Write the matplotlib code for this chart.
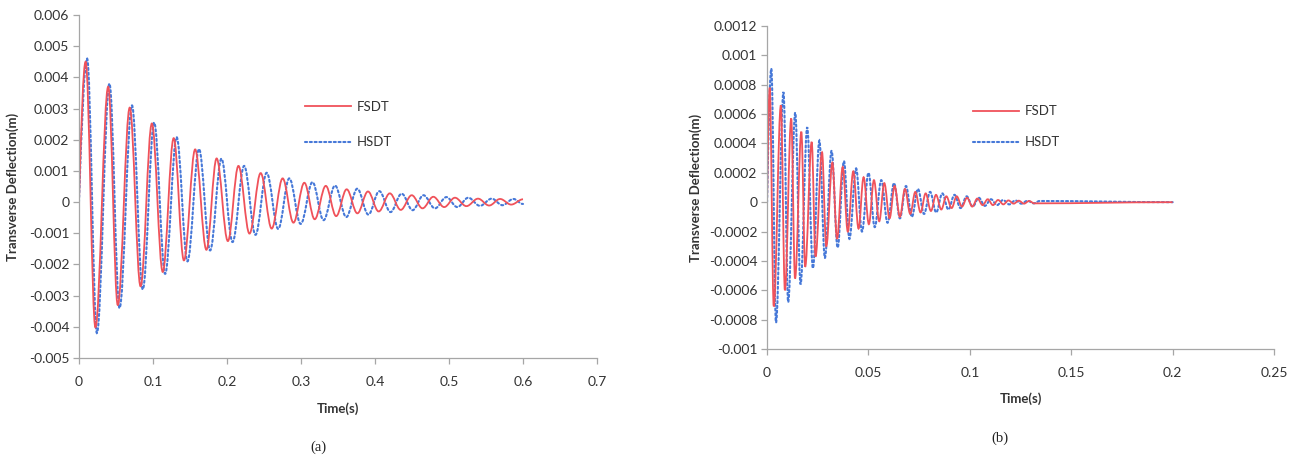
import numpy as np
import matplotlib
matplotlib.use("Agg")
import matplotlib.pyplot as plt
from matplotlib.path import Path
from matplotlib.patches import PathPatch
from matplotlib.lines import Line2D
from matplotlib.ticker import FuncFormatter

plt.rcParams['font.family'] = ['Lato', 'DejaVu Sans']

# (a) extrema of the response: time (s), deflection (m)
a_fsdt_t = [0, 0.009, 0.0222, 0.0395, 0.0524, 0.0686, 0.0832, 0.0985, 0.1132, 0.128,
            0.1418, 0.157, 0.1722, 0.186, 0.2012, 0.2155, 0.2304, 0.2455, 0.2604, 0.2752,
            0.2898, 0.3045, 0.3185, 0.3335, 0.3475, 0.3617, 0.3762, 0.3905, 0.405, 0.42,
            0.4348, 0.4496, 0.4642, 0.4788, 0.4935, 0.508, 0.5235, 0.5392, 0.5542, 0.569,
            0.584, 0.6]
a_fsdt_v = [0, 0.0045, -0.00402, 0.0037, -0.0033, 0.00303, -0.0027, 0.00252, -0.00224, 0.00205,
            -0.00187, 0.00169, -0.00153, 0.0014, -0.00125, 0.00116, -0.00101, 0.00093, -0.00085, 0.00076,
            -0.00066, 0.00062, -0.00055, 0.00052, -0.00045, 0.00041, -0.00036, 0.00034, -0.0003, 0.00028,
            -0.00025, 0.00022, -0.0002, 0.00017, -0.00016, 0.00014, -0.00013, 0.00011, -0.00011, 0.0001,
            -0.00008, 0.00009]
a_hsdt_t = [0, 0.011, 0.0242, 0.0412, 0.0548, 0.0716, 0.0862, 0.1016, 0.1164, 0.132,
            0.1466, 0.1622, 0.1772, 0.1925, 0.2075, 0.2232, 0.2385, 0.2536, 0.2692, 0.2842,
            0.2996, 0.3155, 0.3305, 0.346, 0.3612, 0.376, 0.391, 0.4058, 0.421, 0.436,
            0.4508, 0.4655, 0.481, 0.4965, 0.5112, 0.526, 0.5418, 0.5577, 0.5722, 0.587,
            0.6]
a_hsdt_v = [0, 0.0046, -0.0042, 0.0038, -0.0034, 0.0031, -0.0028, 0.00255, -0.0023, 0.00208,
            -0.0019, 0.0017, -0.00155, 0.00139, -0.00128, 0.00116, -0.00105, 0.00094, -0.00086, 0.00076,
            -0.0007, 0.00064, -0.00058, 0.00053, -0.00048, 0.00043, -0.0004, 0.00035, -0.00032, 0.00027,
            -0.00026, 0.00022, -0.0002, 0.00016, -0.00016, 0.00014, -0.00012, 0.00011, -0.0001, 0.0001,
            -0.00006]

# (b) extrema
b_fsdt_t = [0, 0.0013, 0.0033, 0.0068, 0.0088, 0.0119, 0.0138, 0.0169, 0.0188, 0.022,
            0.0239, 0.0271, 0.0292, 0.0322, 0.0345, 0.0373, 0.0398, 0.0425, 0.0451, 0.0476,
            0.0502, 0.0527, 0.0553, 0.0578, 0.0604, 0.0629, 0.0655, 0.068, 0.0706, 0.0731,
            0.0757, 0.0782, 0.0808, 0.0833, 0.0859, 0.0884, 0.091, 0.0935, 0.0961, 0.0986,
            0.1012, 0.1037, 0.1063, 0.1088, 0.1114, 0.1139, 0.1165, 0.119, 0.1216, 0.1241,
            0.1267, 0.1292, 0.1318, 0.2]
b_fsdt_v = [0, 0.00078, -0.00071, 0.00066, -0.0006, 0.00057, -0.00052, 0.00048, -0.00044, 0.00041,
            -0.00037, 0.00034, -0.0003, 0.00027, -0.00025, 0.00024, -0.0002, 0.00021, -0.00018, 0.00017,
            -0.00015, 0.00015, -0.00013, 0.00013, -0.00011, 0.00011, -0.0001, 0.00009, -0.00008, 0.00007,
            -0.00007, 0.00006, -0.00006, 0.00005, -0.00005, 0.00004, -0.00004, 0.00004, -0.00003, 0.00003,
            -0.00003, 0.000025, -0.00002, 0.00002, -0.00002, 0.000015, -0.000015, 0.000012, -0.00001, 0.00001,
            -0.00001, 0.000008, -0.000008, 0]
b_hsdt_t = [0, 0.0021, 0.0044, 0.0081, 0.0104, 0.0139, 0.0165, 0.0198, 0.0226, 0.0258,
            0.0285, 0.0318, 0.0348, 0.0379, 0.0406, 0.0439, 0.0468, 0.05, 0.0531, 0.0563,
            0.0594, 0.0626, 0.0655, 0.0685, 0.0714, 0.0744, 0.0774, 0.0804, 0.0834, 0.0864,
            0.0894, 0.0924, 0.0954, 0.0984, 0.1014, 0.1044, 0.1074, 0.1104, 0.1134, 0.1164,
            0.1194, 0.1224, 0.1254, 0.1284, 0.1314, 0.1344, 0.2]
b_hsdt_v = [0, 0.00091, -0.00082, 0.00075, -0.00068, 0.00061, -0.00056, 0.00051, -0.00045, 0.00042,
            -0.00038, 0.00035, -0.00031, 0.00028, -0.00025, 0.00023, -0.0002, 0.0002, -0.00017, 0.00015,
            -0.00014, 0.00013, -0.00011, 0.00011, -0.0001, 0.00009, -0.00008, 0.00007, -0.00007, 0.00006,
            -0.00005, 0.00005, -0.00004, 0.00004, -0.00003, 0.00003, -0.000025, 0.00002, -0.00002, 0.000015,
            -0.000015, 0.000012, -0.00001, 0.00001, -0.000008, 0.000008, 0]

a_xticks = [0, 0.1, 0.2, 0.3, 0.4, 0.5, 0.6, 0.7]
a_yticks = [-0.005, -0.004, -0.003, -0.002, -0.001, 0, 0.001, 0.002, 0.003, 0.004, 0.005, 0.006]
b_xticks = [0, 0.05, 0.1, 0.15, 0.2, 0.25]
b_yticks = [-0.001, -0.0008, -0.0006, -0.0004, -0.0002, 0, 0.0002, 0.0004, 0.0006, 0.0008, 0.001, 0.0012]

RED = '#F0525A'
BLUE = '#4678D8'
GRAY = '#A6A6A6'
TXT = '#333333'
HSDT_DASH = (0, (1.0, 1.3))


def wave_path(ts, vs, k=0.363):
    # smooth curve through the extrema: horizontal tangent at every peak/trough
    verts = [(ts[0], vs[0])]
    codes = [Path.MOVETO]
    for i in range(1, len(ts)):
        t0, v0, t1, v1 = ts[i - 1], vs[i - 1], ts[i], vs[i]
        dt = t1 - t0
        if i == 1:
            c1 = (t0 + dt / 3, v0 + (v1 - v0) * np.pi / 6)
        else:
            c1 = (t0 + k * dt, v0)
        c2 = (t1 - k * dt, v1)
        verts += [c1, c2, (t1, v1)]
        codes += [Path.CURVE4] * 3
    return Path(verts, codes)


def style_axes(ax, xticks, yticks):
    for s in ['top', 'right']:
        ax.spines[s].set_visible(False)
    for s in ['left', 'bottom']:
        ax.spines[s].set_color(GRAY)
        ax.spines[s].set_linewidth(0.9)
    ax.set_xlim(xticks[0], xticks[-1])
    ax.set_ylim(yticks[0], yticks[-1])
    ax.set_xticks(xticks)
    ax.set_yticks(yticks)
    fmt = FuncFormatter(lambda v, p: f'{v:g}')
    ax.xaxis.set_major_formatter(fmt)
    ax.yaxis.set_major_formatter(fmt)
    ax.tick_params(direction='out', length=4, width=0.9, color=GRAY,
                   labelcolor=TXT, labelsize=10)
    ax.tick_params(axis='x', pad=9)
    ax.tick_params(axis='y', pad=3)


fig = plt.figure(figsize=(13.01, 4.67), dpi=100)
ax_a = fig.add_axes([0.0607, 0.2334, 0.3982, 0.7345])
ax_b = fig.add_axes([0.5896, 0.2527, 0.3897, 0.6916])

panels = [
    (ax_a, a_fsdt_t, a_fsdt_v, a_hsdt_t, a_hsdt_v, a_xticks, a_yticks,
     (0.436, 0.75), 1.8, (-0.116, 0.5), (0.5, -0.128)),
    (ax_b, b_fsdt_t, b_fsdt_v, b_hsdt_t, b_hsdt_v, b_xticks, b_yticks,
     (0.406, 0.755), 1.45, (-0.128, 0.5), (0.5, -0.133)),
]

for ax, ft, fv, ht, hv, xt, yt, leg_pos, lsp, ylab_pos, xlab_pos in panels:
    style_axes(ax, xt, yt)
    ax.add_patch(PathPatch(wave_path(ht, hv), fill=False, edgecolor=BLUE,
                           lw=1.5, linestyle=HSDT_DASH, capstyle='round'))
    ax.add_patch(PathPatch(wave_path(ft, fv), fill=False, edgecolor=RED, lw=1.3))

    handles = [Line2D([], [], color=RED, lw=1.3),
               Line2D([], [], color=BLUE, lw=1.5, ls=HSDT_DASH, dash_capstyle='round')]
    leg = ax.legend(handles, ['FSDT', 'HSDT'], frameon=False, loc='upper left',
                    bbox_to_anchor=leg_pos, borderaxespad=0, borderpad=0,
                    handlelength=3.5, handletextpad=0.4, labelspacing=lsp, fontsize=9.5)
    for t in leg.get_texts():
        t.set_color(TXT)

    ax.set_ylabel('Transverse Deflection(m)', fontsize=9.5, fontweight='bold', color=TXT)
    ax.set_xlabel('Time(s)', fontsize=9.5, fontweight='bold', color=TXT)
    ax.yaxis.set_label_coords(*ylab_pos)
    ax.xaxis.set_label_coords(*xlab_pos)

fig.text(318 / 1301, 1 - 447 / 467, '(a)', family='Liberation Serif', fontsize=10.5,
         ha='center', va='center', color='#222222')
fig.text(1000 / 1301, 1 - 438 / 467, '(b)', family='Liberation Serif', fontsize=10.5,
         ha='center', va='center', color='#222222')

fig.savefig('out.png', dpi=100)
